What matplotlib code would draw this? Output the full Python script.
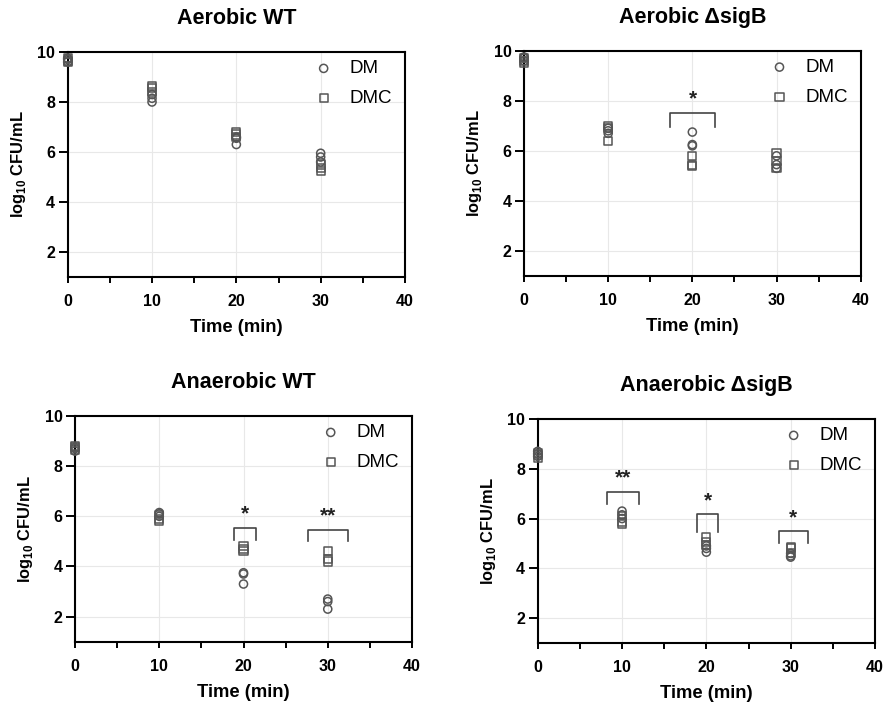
import matplotlib
matplotlib.use("Agg")
import matplotlib.pyplot as plt
import numpy as np

plt.rcParams['font.family'] = ['Liberation Sans', 'DejaVu Sans']
plt.rcParams['mathtext.fontset'] = 'custom'
plt.rcParams['mathtext.rm'] = 'Liberation Sans'
plt.rcParams['mathtext.bf'] = 'Liberation Sans:bold'

times = [0, 10, 20, 30]

titles = ["Aerobic WT", "Aerobic \u0394sigB", "Anaerobic WT", "Anaerobic \u0394sigB"]

# replicate values (3 per time point) for each panel
dm_values = [
    [[9.60, 9.70, 9.75], [8.00, 8.15, 8.30], [6.30, 6.55, 6.60], [5.60, 5.80, 5.95]],
    [[9.60, 9.70, 9.75], [6.70, 6.80, 6.90], [6.20, 6.25, 6.75], [5.30, 5.45, 5.80]],
    [[8.60, 8.70, 8.75], [6.00, 6.10, 6.15], [3.30, 3.70, 3.75], [2.30, 2.60, 2.70]],
    [[8.50, 8.60, 8.70], [6.00, 6.15, 6.30], [4.65, 4.80, 4.90], [4.45, 4.50, 4.60]],
]
dmc_values = [
    [[9.60, 9.65, 9.75], [8.40, 8.55, 8.65], [6.60, 6.70, 6.80], [5.25, 5.35, 5.50]],
    [[9.50, 9.60, 9.70], [6.40, 6.90, 7.00], [5.40, 5.45, 5.80], [5.30, 5.60, 5.90]],
    [[8.65, 8.75, 8.80], [5.80, 5.90, 6.05], [4.60, 4.70, 4.80], [4.20, 4.30, 4.60]],
    [[8.45, 8.55, 8.65], [5.80, 5.85, 6.10], [4.95, 5.05, 5.25], [4.60, 4.80, 4.85]],
]

# significance brackets: (x_left, x_right, y_top, y_leg_bottom, label, label_y)
brackets = [
    [],
    [(17.35, 22.7, 7.52, 6.96, "*", 8.07)],
    [(18.9, 21.5, 5.53, 5.04, "*", 6.1), (27.7, 32.4, 5.44, 5.0, "**", 6.0)],
    [(8.2, 12.0, 7.05, 6.6, "**", 7.64), (18.9, 21.4, 6.19, 5.47, "*", 6.72),
     (28.6, 32.0, 5.52, 5.0, "*", 6.03)],
]

W, H = 885, 708
fig = plt.figure(figsize=(W / 100, H / 100), dpi=100)

# axes boxes in pixels: left, right, top, bottom
boxes = [
    (67.7, 405.0, 52.0, 277.0),
    (524.0, 860.7, 50.7, 276.0),
    (75.0, 412.0, 416.0, 641.7),
    (537.7, 875.0, 419.0, 643.0),
]

edge = '#555555'
for i in range(4):
    l, r, t, b = boxes[i]
    ax = fig.add_axes([l / W, 1 - b / H, (r - l) / W, (b - t) / H])
    ax.set_xlim(0, 40)
    ax.set_ylim(1, 10)
    ax.set_xticks([0, 10, 20, 30, 40])
    ax.set_xticks([5, 15, 25, 35], minor=True)
    ax.set_yticks([2, 4, 6, 8, 10])
    ax.grid(True, which='major', color='#e8e8e8', linewidth=0.8)
    ax.set_axisbelow(True)
    for s in ax.spines.values():
        s.set_linewidth(1.5)
        s.set_color('black')
    ax.tick_params(axis='x', which='both', direction='out', width=1.4,
                   length=4.5, labelsize=11.5, pad=8)
    ax.tick_params(axis='y', which='both', direction='out', width=1.4,
                   length=6.5, labelsize=11.5, pad=2.5)
    for lab in ax.get_xticklabels() + ax.get_yticklabels():
        lab.set_fontweight('bold')

    xs_dm = np.repeat(times, 3)
    ys_dm = np.array(dm_values[i]).ravel()
    xs_dmc = np.repeat(times, 3)
    ys_dmc = np.array(dmc_values[i]).ravel()
    ax.scatter(xs_dm, ys_dm, s=34, marker='o', facecolors='none',
               edgecolors=edge, linewidths=1.1, label='DM', clip_on=False, zorder=3)
    ax.scatter(xs_dmc, ys_dmc, s=34, marker='s', facecolors='none',
               edgecolors=edge, linewidths=1.1, label='DMC', clip_on=False, zorder=3)

    for (x0, x1, yt, yb, lab, ly) in brackets[i]:
        ax.plot([x0, x0, x1, x1], [yb, yt, yt, yb], color='#444444', lw=1.2)
        ax.text((x0 + x1) / 2, ly, lab, ha='center', va='center',
                fontsize=15, fontweight='bold', color='#222222')

    ax.set_title(titles[i], fontsize=15.5, fontweight='bold', pad=20)
    ax.set_xlabel('Time (min)', fontsize=13.2, fontweight='bold', labelpad=7)
    ax.set_ylabel(r'log$_{\mathbf{10}}$ CFU/mL', fontsize=11.9, fontweight='bold', labelpad=7)

    ax.legend(loc='upper left', bbox_to_anchor=(0.731, 0.9636), frameon=False,
              fontsize=13.5, handlelength=1.0, handletextpad=0.885,
              labelspacing=0.66, borderpad=0, borderaxespad=0)

fig.savefig('out.png', dpi=100)
